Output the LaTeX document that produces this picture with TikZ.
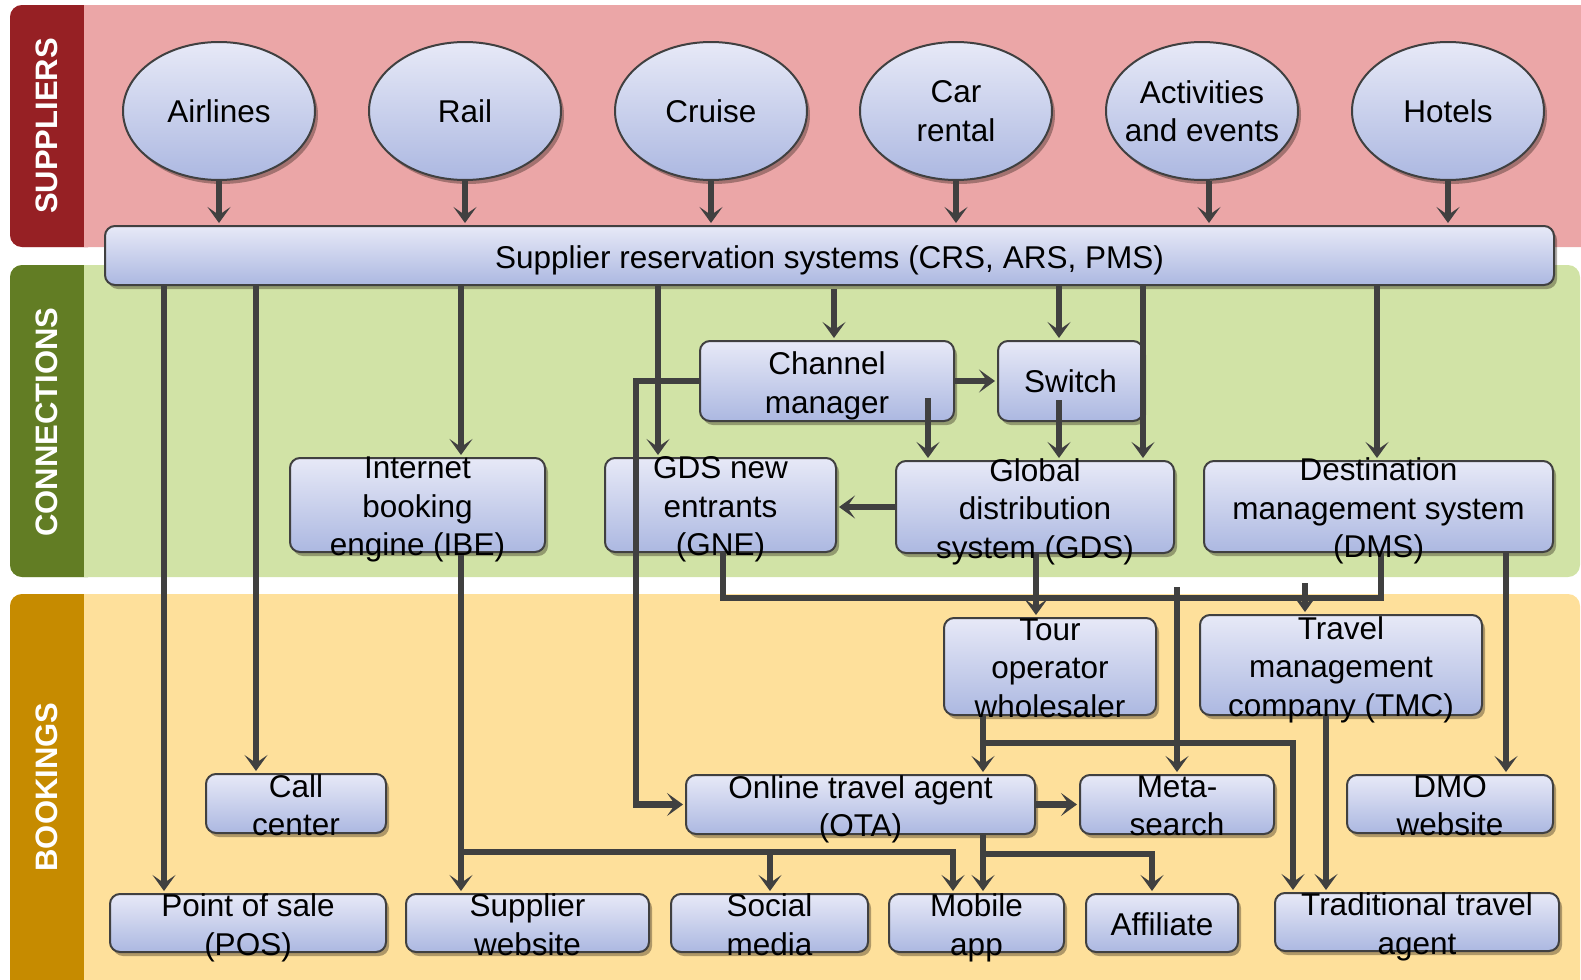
\documentclass[tikz,border=0pt]{standalone}
\usepackage{fontspec}
\setmainfont{Liberation Sans}
\usetikzlibrary{arrows.meta,shadows,shapes.geometric}

\definecolor{supbg}{RGB}{235,166,167}
\definecolor{suptab}{RGB}{150,32,36}
\definecolor{conbg}{RGB}{209,227,166}
\definecolor{contab}{RGB}{98,125,36}
\definecolor{bookbg}{RGB}{254,224,155}
\definecolor{booktab}{RGB}{198,139,0}
\definecolor{boxtop}{RGB}{231,233,247}
\definecolor{boxbot}{RGB}{172,184,225}
\definecolor{edge}{RGB}{64,64,64}
\definecolor{wire}{RGB}{64,64,64}

\begin{document}
\begin{tikzpicture}[x=0.5pt,y=-0.5pt,
  shade/.style={drop shadow={shadow xshift=1.5pt,shadow yshift=-2pt,opacity=0.35,fill=black!85!brown}},
  card/.style={draw=edge,line width=1pt,rounded corners=5pt,top color=boxtop,bottom color=boxbot,
    inner sep=0pt,shade},
  oval/.style={ellipse,draw=edge,line width=1pt,top color=boxtop,bottom color=boxbot,
    inner sep=0pt,minimum width=96pt,minimum height=69pt,shade},
  txt/.style={font=\fontsize{15.75}{19.25}\selectfont,align=center,inner sep=0pt,text=black,
    text depth=0pt,yshift=-0.7pt},
  otxt/.style={txt,yshift=0.7pt},
  bandlbl/.style={font=\fontsize{15.5}{18}\selectfont\bfseries,text=white,rotate=90,inner sep=0pt},
  wirestyle/.style={draw=wire,line width=3.3pt},
  arr/.style={wirestyle,-{Stealth[length=8pt,width=11.5pt,inset=4pt]},shorten >=1pt},
]
\useasboundingbox (0,0) rectangle (1581,980);

% ---------- bands ----------
\fill[supbg,rounded corners=6pt] (10,5) rectangle (1600,247);
\fill[suptab,rounded corners=6pt] (10,5) rectangle (100,247);
\fill[supbg] (84,5) rectangle (106,247);

\fill[conbg,rounded corners=6pt] (10,265) rectangle (1580,577);
\fill[contab,rounded corners=6pt] (10,265) rectangle (100,577);
\fill[conbg] (84,265) rectangle (106,577);

\fill[bookbg,rounded corners=6pt] (10,594) rectangle (1580,1010);
\fill[booktab,rounded corners=6pt] (10,594) rectangle (100,1010);
\fill[bookbg] (84,594) rectangle (106,1010);

\node[bandlbl] (lsup) at (47,126) {SUPPLIERS};
\node[bandlbl] (lcon) at (47,422) {CONNECTIONS};
\node[bandlbl] (lbook) at (47,787) {BOOKINGS};

% ---------- suppliers ----------
\node[oval] (air) at (219,111) {};
\node[oval] (rail) at (465,111) {};
\node[oval] (cru) at (711,111) {};
\node[oval] (car) at (956,111) {};
\node[oval] (act) at (1202,111) {};
\node[oval] (hot) at (1448,111) {};

% ---------- boxes ----------
\node[card,minimum width=724.5pt,minimum height=29.5pt] (srs) at (829.5,255.5) {};

\node[card,minimum width=127pt,minimum height=40pt] (cm) at (827,381) {};
\node[card,minimum width=72.5pt,minimum height=40pt] (sw) at (1070.5,381) {};
\node[card,minimum width=127.5pt,minimum height=47pt] (ibe) at (417.5,505) {};
\node[card,minimum width=115.5pt,minimum height=47pt] (gne) at (720.5,505) {};
\node[card,minimum width=139pt,minimum height=46pt] (gds) at (1035,507) {};
\node[card,minimum width=174.5pt,minimum height=45.5pt] (dms) at (1378.5,506.5) {};

\node[card,minimum width=106pt,minimum height=48.5pt] (tow) at (1050,666.5) {};
\node[card,minimum width=141pt,minimum height=50pt] (tmc) at (1341,665) {};
\node[card,minimum width=90pt,minimum height=29.5pt] (call) at (296,803.5) {};
\node[card,minimum width=174.5pt,minimum height=29.5pt] (ota) at (860.5,804.5) {};
\node[card,minimum width=97pt,minimum height=29.5pt] (meta) at (1177,804.5) {};
\node[card,minimum width=103pt,minimum height=29pt] (dmo) at (1450,804) {};
\node[card,minimum width=138pt,minimum height=29pt] (pos) at (248,923) {};
\node[card,minimum width=121.5pt,minimum height=29pt] (sup) at (527.5,923) {};
\node[card,minimum width=98.5pt,minimum height=29pt] (soc) at (769.5,923) {};
\node[card,minimum width=87.5pt,minimum height=29pt] (mob) at (976.5,923) {};
\node[card,minimum width=76pt,minimum height=29pt] (aff) at (1162,923) {};
\node[card,minimum width=142pt,minimum height=29pt] (tta) at (1417,922) {};

% ---------- helper coordinates ----------
\coordinate (c-act) at (1209,0);
\coordinate (c-pos) at (164,0);
\coordinate (c-call) at (256,0);
\coordinate (c-ibe) at (461,0);
\coordinate (c-gne) at (658,0);
\coordinate (cm-in) at (834,289);
\coordinate (c-sw) at (1059,0);
\coordinate (c-gds) at (1143,0);
\coordinate (c-dms) at (1377,0);
\coordinate (cm-out) at (928,398);
\coordinate (sw-out) at (1059,400);
\coordinate (cm-bend) at (636,380);
\coordinate (bus-l) at (723,598);
\coordinate (bus-r) at (1381,598);
\coordinate (c-tow) at (1036,0);
\coordinate (tmc-in) at (1305,583);
\coordinate (meta-in) at (1177,587);
\coordinate (c-dmo) at (1506,0);
\coordinate (ibe-bus) at (461,852);
\coordinate (soc-j) at (770,852);
\coordinate (ibe-end) at (953,852);
\coordinate (tow-j) at (983,743);
\coordinate (tow-r) at (1293,743);
\coordinate (ota-j) at (983,854);
\coordinate (ota-r) at (1152,854);
\coordinate (c-tmc) at (1326,0);

% ---------- suppliers into reservation systems ----------
\draw[arr] (air.south) -- (air.south |- srs.north);
\draw[arr] (rail.south) -- (rail.south |- srs.north);
\draw[arr] (cru.south) -- (cru.south |- srs.north);
\draw[arr] (car.south) -- (car.south |- srs.north);
\draw[arr] (c-act |- act.south) -- (c-act |- srs.north);
\draw[arr] (hot.south) -- (hot.south |- srs.north);

% ---------- reservation systems outwards ----------
\draw[arr] (c-pos |- srs.south) -- (c-pos |- pos.north);
\draw[arr] (c-call |- srs.south) -- (c-call |- call.north);
\draw[arr] (c-ibe |- srs.south) -- (c-ibe |- ibe.north);
\draw[arr] (c-gne |- srs.south) -- (c-gne |- gne.north);
\draw[arr] (cm-in) -- (cm-in |- cm.north);
\draw[arr] (c-sw |- srs.south) -- (c-sw |- sw.north);
\draw[arr] (c-gds |- srs.south) -- (c-gds |- gds.north);
\draw[arr] (c-dms |- srs.south) -- (c-dms |- dms.north);

% ---------- connections ----------
\draw[arr] (cm.east) -- (sw.west);
\draw[arr] (cm-out) -- (cm-out |- gds.north);
\draw[arr] (sw-out) -- (sw-out |- gds.north);
\draw[arr] (gds.west) -- (gds.west -| gne.east);
\draw[arr] (cm.west) -- (cm.west -| cm-bend) -- (cm-bend |- ota.west) -- (ota.west);

\draw[wirestyle] (bus-l |- gne.south) -- (bus-l) -- (bus-r) -- (bus-r |- dms.south);
\draw[arr] (c-tow |- gds.south) -- (c-tow |- tow.north);
\draw[arr] (tmc-in) -- (tmc-in |- tmc.north);
\draw[arr] (meta-in) -- (meta-in |- meta.north);
\draw[arr] (c-dmo |- dms.south) -- (c-dmo |- dmo.north);

% ---------- bookings ----------
\draw[arr] (ibe-bus |- ibe.south) -- (ibe-bus |- sup.north);
\draw[arr] (ibe-bus) -- (ibe-end) -- (ibe-end |- mob.north);
\draw[arr] (soc-j) -- (soc-j |- soc.north);

\draw[arr] (tow-j |- tow.south) -- (tow-j |- ota.north);
\draw[arr] (tow-j) -- (tow-r) -- (tow-r |- tta.north);

\draw[arr] (ota.east) -- (ota.east -| meta.west);
\draw[arr] (ota-j |- ota.south) -- (ota-j |- mob.north);
\draw[arr] (ota-j) -- (ota-r) -- (ota-r |- aff.north);

\draw[arr] (c-tmc |- tmc.south) -- (c-tmc |- tta.north);

% ---------- texts ----------
\node[otxt] (t-air) at (air) {Airlines};
\node[otxt] (t-rail) at (rail) {Rail};
\node[otxt] (t-cru) at (cru) {Cruise};
\node[otxt] (t-car) at (car) {Car\\rental};
\node[otxt] (t-act) at (act) {Activities\\and events};
\node[otxt] (t-hot) at (hot) {Hotels};

\node[txt] (t-srs) at (srs) {Supplier reservation systems (CRS, ARS, PMS)};
\node[txt] (t-cm) at (cm) {Channel\\manager};
\node[otxt] (t-sw) at (sw) {Switch};
\node[txt] (t-ibe) at (ibe) {Internet\\booking\\engine (IBE)};
\node[txt] (t-gne) at (gne) {GDS new\\entrants\\(GNE)};
\node[txt] (t-gds) at (gds) {Global\\distribution\\system (GDS)};
\node[txt] (t-dms) at (dms) {Destination\\management system\\(DMS)};

\node[txt] (t-tow) at (tow) {Tour\\operator\\wholesaler};
\node[txt] (t-tmc) at (tmc) {Travel\\management\\company (TMC)};
\node[txt] (t-call) at (call) {Call\\center};
\node[txt] (t-ota) at (ota) {Online travel agent\\(OTA)};
\node[txt] (t-meta) at (meta) {Meta-\\search};
\node[txt] (t-dmo) at (dmo) {DMO\\website};
\node[txt] (t-pos) at (pos) {Point of sale\\(POS)};
\node[txt] (t-sup) at (sup) {Supplier\\website};
\node[txt] (t-soc) at (soc) {Social\\media};
\node[txt] (t-mob) at (mob) {Mobile\\app};
\node[txt] (t-aff) at (aff) {Affiliate};
\node[txt] (t-tta) at (tta) {Traditional travel\\agent};
\end{tikzpicture}
\end{document}
